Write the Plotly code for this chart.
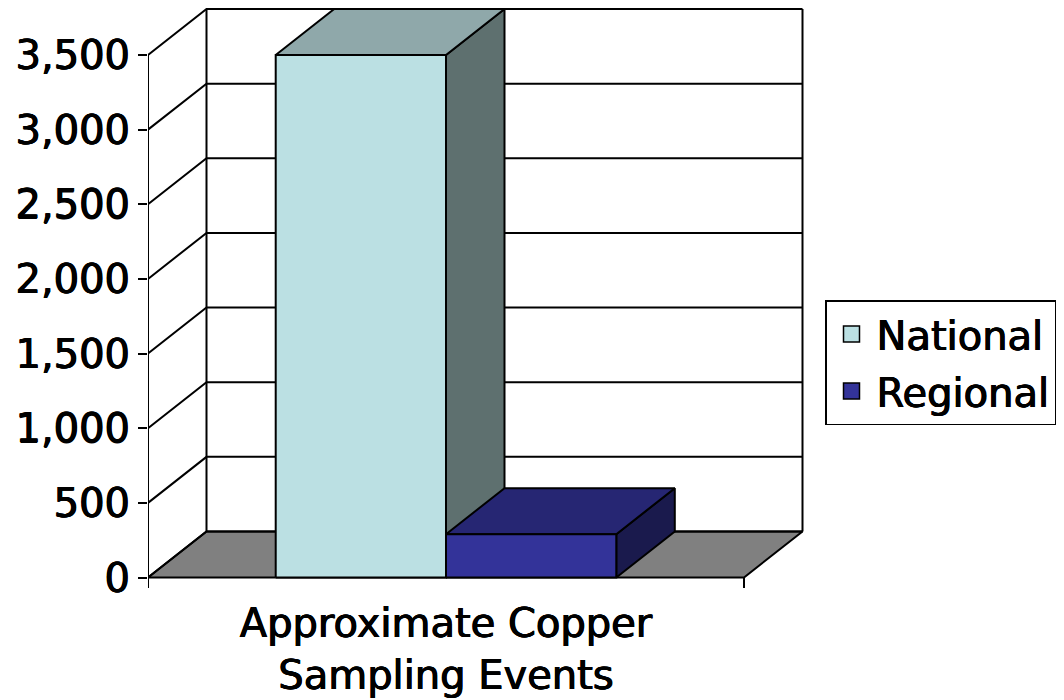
import plotly.graph_objects as go

# ---------------- data ----------------
categories = ["Approximate Copper<br>Sampling Events"]
series_names = ["National", "Regional"]
national = [3500]
regional = [290]
series_values = [national, regional]
y_ticks = [0, 500, 1000, 1500, 2000, 2500, 3000, 3500]

front_colors = ["#BBE0E3", "#333399"]
top_colors = ["#8FA8AA", "#262673"]
side_colors = ["#5E706F", "#1A1A4D"]
floor_color = "#808080"

# ---------------- geometry (layout) ----------------
W, H = 1064, 700
L, R, T, B = 148, 812, 4, 596          # plot-area box in pixels
cat_px = 596.0                          # width of one category on the front plane
zero_px = 577.5                         # pixel row of value 0 on the front plane
top_px = 55.0                           # pixel row of the top tick on the front plane
depth_dx_px, depth_dy_px = 58.5, 46.0   # 3-D depth offset
gap_width = 1.5                         # Excel-style gap width (fraction of bar width)

ncat = len(categories)
nser = len(series_names)
ymax = y_ticks[-1]
k = (zero_px - top_px) / ymax           # px per value unit
DX = depth_dx_px / cat_px
DY = depth_dy_px / k
xr = [0, (R - L) / cat_px]
yr = [-(B - zero_px) / k, (zero_px - T) / k]
tick_down = 10.5 / k
bar_w = 1.0 / (nser + gap_width)
start = gap_width / 2 * bar_w

LINE = dict(color="black", width=2)
FONT = "DejaVu Sans"
FS = 40
SHADOW = "0.55px 0 0 #000, -0.55px 0 0 #000, 0 0.45px 0 #000"
TXT = dict(family=FONT, size=FS, color="black", shadow=SHADOW)
fig = go.Figure()

# floor
fig.add_trace(go.Scatter(
    x=[0, ncat, ncat + DX, DX, 0], y=[0, 0, DY, DY, 0],
    mode="lines", fill="toself", fillcolor=floor_color,
    line=LINE, hoverinfo="skip", showlegend=False))

# walls and gridlines
gx, gy = [], []
for v in y_ticks:
    gx += [0, DX, ncat + DX, None]
    gy += [v, v + DY, v + DY, None]
gx += [DX, DX, None, ncat + DX, ncat + DX, None]
gy += [DY, ymax + DY, None, DY, ymax + DY, None]
gx += [0, 0, None]
gy += [-tick_down, ymax, None]
for c in range(1, ncat + 1):
    gx += [c, c, None]
    gy += [-tick_down, 0, None]
fig.add_trace(go.Scatter(x=gx, y=gy, mode="lines", line=LINE,
                         hoverinfo="skip", showlegend=False))

# bars (painter's order: left to right)
for c in range(ncat):
    for s in range(nser):
        v = series_values[s][c]
        x0 = c + start + s * bar_w
        x1 = x0 + bar_w
        faces = [
            ([x1, x1 + DX, x1 + DX, x1, x1], [0, DY, v + DY, v, 0], side_colors[s]),
            ([x0, x1, x1 + DX, x0 + DX, x0], [v, v, v + DY, v + DY, v], top_colors[s]),
            ([x0, x1, x1, x0, x0], [0, 0, v, v, 0], front_colors[s]),
        ]
        for fx, fy, col in faces:
            fig.add_trace(go.Scatter(
                x=fx, y=fy, mode="lines", fill="toself", fillcolor=col,
                line=LINE, hoverinfo="skip", showlegend=False))

# legend entries
for s in range(nser):
    fig.add_trace(go.Scatter(
        x=[None], y=[None], mode="markers", name=series_names[s],
        legendgroup=series_names[s],
        marker=dict(symbol="square", size=16, color=front_colors[s],
                    line=dict(color="black", width=1.5))))

fig.update_layout(
    width=W, height=H,
    margin=dict(l=L, r=W - R, t=T, b=H - B, autoexpand=False),
    paper_bgcolor="white", plot_bgcolor="white",
    font=TXT,
    showlegend=True,
    legend=dict(x=(825 - L) / (R - L), y=(B - 300) / (B - T),
                xanchor="left", yanchor="top",
                bordercolor="black", borderwidth=1.5, bgcolor="white",
                font=TXT, tracegroupgap=2, itemwidth=40),
    xaxis=dict(range=xr, showgrid=False, zeroline=False, showline=False,
               tickvals=[c + 0.5 for c in range(ncat)], ticktext=categories,
               ticks="", tickfont=TXT, fixedrange=True),
    yaxis=dict(range=yr, showgrid=False, zeroline=False, showline=False,
               tickvals=y_ticks, tickformat=",", ticks="outside",
               ticklen=9, tickwidth=1.5, tickcolor="black",
               tickfont=TXT, fixedrange=True),
)

fig.write_html(
    "out.html",
    config={"displayModeBar": False},
    post_script="document.body.style.margin='0';document.body.style.padding='0';"
                "document.documentElement.style.overflow='hidden';",
)
